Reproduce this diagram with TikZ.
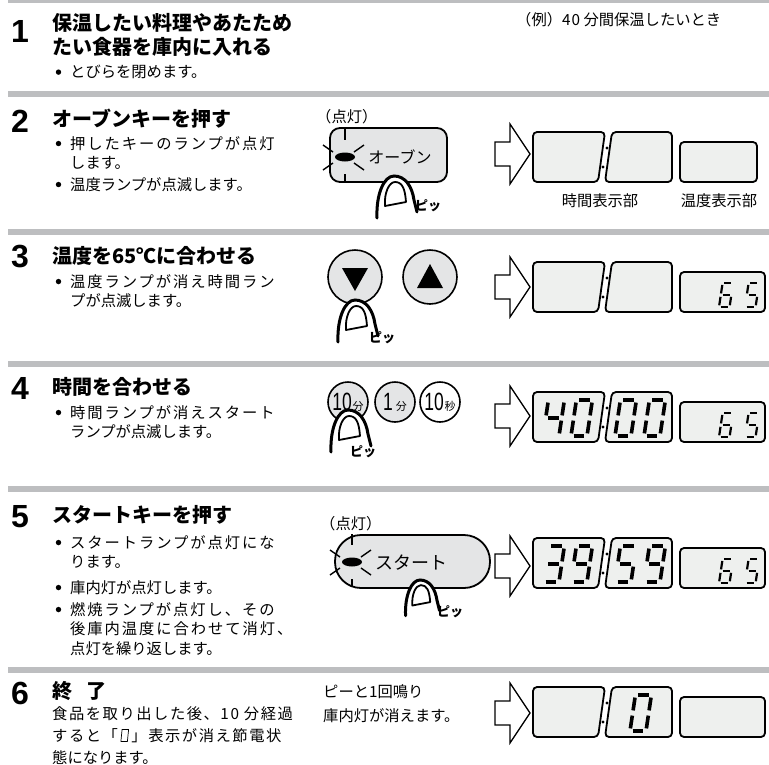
\documentclass[tikz,border=0pt]{standalone}
\usepackage{fontspec}
\usepackage{graphicx}
\newfontfamily\cjk{Noto Sans CJK JP}
\newfontfamily\cjkjust[LetterSpace=12.7]{Noto Sans CJK JP}
\newfontfamily\cjkwide[LetterSpace=10]{Noto Sans CJK JP}
\newfontfamily\numfont{Liberation Sans}
\usetikzlibrary{positioning}

\definecolor{bargray}{HTML}{BDBEC0}
\definecolor{keygray}{HTML}{E4E5E6}
\definecolor{lcdgray}{HTML}{EEF0EE}

\tikzset{
  bar/.style={fill=bargray},
  num/.style={font=\numfont\bfseries\fontsize{32}{32}\selectfont, inner sep=0pt, anchor=west},
  ttl/.style={font=\cjk\bfseries\fontsize{20}{24}\selectfont, inner sep=0pt, anchor=north west, align=left},
  txt/.style={font=\cjk\fontsize{15.3}{19.5}\selectfont, inner sep=0pt, anchor=north west, align=left},
  note/.style={font=\cjk\fontsize{15.3}{24}\selectfont, inner sep=0pt, anchor=west, align=left},
  lcd/.style={draw, line width=1.8pt, fill=lcdgray, rounded corners=4pt},
  key/.style={draw, line width=1.8pt, fill=keygray},
  ray/.style={line width=1.4pt},
  arrowline/.style={draw, line width=1.3pt, fill=white, line join=miter},
  fingerline/.style={line width=3pt, line cap=round},
  pitt/.style={font=\cjk\bfseries\fontsize{13}{13}\selectfont, inner sep=0pt},
  btn/.style={circle, draw, line width=1.6pt, fill=keygray, minimum size=40pt, inner sep=0pt, font=\cjk},
  sgm a/.style={insert path={(2.6,36) -- (13.4,36)}},
  sgm b/.style={insert path={(16,33.4) -- (16,20.6)}},
  sgm c/.style={insert path={(16,15.4) -- (16,2.6)}},
  sgm d/.style={insert path={(2.6,0) -- (13.4,0)}},
  sgm e/.style={insert path={(0,15.4) -- (0,2.6)}},
  sgm f/.style={insert path={(0,33.4) -- (0,20.6)}},
  sgm g/.style={insert path={(2.6,18) -- (13.4,18)}},
}

% bullet hanging left of the text
\newcommand\bul{\llap{\tikz[baseline=-5.6pt]\fill (0,0) circle (2.7pt);\hspace{9pt}}}
% small outlined zero used in the text
\newcommand\minizero{\,\tikz[baseline=0pt, x=1pt, y=1pt]\draw[line width=0.7pt, xslant=0.1] (0,-0.5) rectangle (6.5,11.5);\,}
% label of a round time key
\newcommand\btnlbl[2]{{\numfont\fontsize{25}{25}\selectfont\scalebox{0.7}[1]{#1}}\kern1pt{\fontsize{11}{11}\selectfont #2}}

% seven segment digit: x, y (bottom left), scale, line width, segments
\newcommand\segdigit[5]{%
  \begin{scope}[shift={(#1,#2)}, x=#3pt, y=#3pt, xslant=0.15]
    \foreach \s in {#5} {\draw[line width=#4, sgm \s];}
  \end{scope}}

% time and temperature windows, top at #1, right edge of the temperature window #2
\newcommand\timedisp[2]{%
  \draw[lcd] (533,#1) -- (605,#1) -- (598,#1+50) -- (533,#1+50) -- cycle;
  \draw[lcd] (612,#1) -- (672,#1) -- (672,#1+50) -- (605,#1+50) -- cycle;
  \fill (607,#1+16) circle (1.6);
  \fill (603,#1+35) circle (1.6);
  \draw[lcd] (680,#1+10) rectangle (#2,#1+50);}

% hollow block arrow, tip height #1
\newcommand\bigarrow[1]{%
  \draw[arrowline] (495,#1-12) -- (510,#1-12) -- (510,#1-30) -- (530,#1)
    -- (510,#1+30) -- (510,#1+12) -- (495,#1+12) -- cycle;}

% lit lamp with rays
\newcommand\lamp[2]{%
  \fill (#1,#2) ellipse (10 and 4.5);
  \draw[ray] (#1,#2-28) -- (#1,#2-17);
  \draw[ray] (#1,#2+17) -- (#1,#2+25);
  \draw[ray] (#1-22,#2-12) -- (#1-12,#2-5);
  \draw[ray] (#1-22,#2+13) -- (#1-12,#2+6);
  \draw[ray] (#1+9,#2-5) -- (#1+19,#2-12);
  \draw[ray] (#1+9,#2+6) -- (#1+19,#2+13);}

% pressing finger, tip at (#1,#2)
\newcommand\finger[3]{%
  \begin{scope}[shift={(#1,#2)}, scale=#3]
    \fill[white] (-17,42) .. controls (-18,18) and (-10,0) .. (0,0)
      .. controls (11,0) and (18,10) .. (20,24) -- (23,36) -- cycle;
    \draw[fingerline] (-17,42) .. controls (-18,18) and (-10,0) .. (0,0)
      .. controls (11,0) and (18,10) .. (20,24) -- (23,36);
    \draw[line width=1.8pt, line join=round] (-9,30) .. controls (-10,17) and (-5,6) .. (1,6)
      .. controls (8,6) and (11,12) .. (12,26) -- cycle;
  \end{scope}}

\begin{document}
\begin{tikzpicture}[x=1pt, y=-1pt]
  \useasboundingbox (0,0) rectangle (769,764);
  \foreach \yb in {-3,91,229,361,486,667} {
    \fill[bar] (8,\yb) rectangle (769,\yb+6);
  }

  % 1
  \node[num] (n1) at (11,31) {1};
  \node[ttl] (t1) at (52,13) {保温したい料理やあたため\\たい食器を庫内に入れる};
  \node[txt] (b1) at (70,65) {\bul とびらを閉めます。};
  \node[note] (ex) at (516,20) {（例）4\kern1pt0 分間保温したいとき};

  % 2
  \node[num] (n2) at (11,121) {2};
  \node[ttl] (t2) at (52,109) {オーブンキーを押す};
  \node[txt] (b2a) at (70,136) {\bul{\cjkjust 押したキーのランプが点灯}\\します。};
  \node[txt] (b2b) at (70,177) {\bul 温度ランプが点滅します。};
  \node[note] (lit2) at (316,117) {（点灯）};
  \node[key, rounded corners=10pt, minimum width=117pt, minimum height=54pt] (openkey) at (388.5,155) {};
  \lamp{345}{157}
  \node[font=\cjk\fontsize{16}{16}\selectfont, inner sep=0pt] (opentxt) at (400,157) {オーブン};
  \finger{394}{176}{1}
  \node[pitt] (pit2) at (428,206) {ピッ};
  \bigarrow{154}
  \timedisp{132}{757}
  \node[note, anchor=center] (timelbl) at (600,201) {時間表示部};
  \node[note, anchor=center] (templbl) at (719,201) {温度表示部};

  % 3
  \node[num] (n3) at (11,257) {3};
  \node[ttl] (t3) at (52,246) {温度を65℃に合わせる};
  \node[txt] (b3) at (70,274) {\bul{\cjkjust 温度ランプが消え時間ラン}\\プが点滅します。};
  \node[btn, minimum size=54pt] (down) at (355,277) {};
  \node[btn, minimum size=54pt] (up) at (430,277) {};
  \fill (down.center) ++(-13,-9) -- ++(26,0) -- ++(-13,23) -- cycle;
  \fill (up.center) ++(-13,11) -- ++(26,0) -- ++(-13,-24) -- cycle;
  \finger{355}{300}{1}
  \node[pitt] (pit3) at (382,338) {ピッ};
  \bigarrow{287}
  \timedisp{262}{765}
  \segdigit{719}{307}{0.66}{2.2pt}{a,c,d,e,f,g}
  \segdigit{745}{307}{0.66}{2.2pt}{a,c,d,f,g}

  % 4
  \node[num] (n4) at (11,388) {4};
  \node[ttl] (t4) at (52,377) {時間を合わせる};
  \node[txt] (b4) at (70,405) {\bul{\cjkjust 時間ランプが消えスタート}\\ランプが点滅します。};
  \node[btn] (tenmin) at (348,402) {\btnlbl{10}{分}};
  \node[btn] (onemin) at (395,402) {\btnlbl{1}{\,分}};
  \node[btn, fill=white] (tensec) at (440,402) {\btnlbl{10}{秒}};
  \finger{348}{410}{1}
  \node[pitt] (pit4) at (363,452) {ピッ};
  \bigarrow{416}
  \timedisp{392}{765}
  \segdigit{543}{436}{1}{3.6pt}{b,c,f,g}
  \segdigit{571}{436}{1}{3.6pt}{a,b,c,d,e,f}
  \segdigit{615}{436}{1}{3.6pt}{a,b,c,d,e,f}
  \segdigit{644}{436}{1}{3.6pt}{a,b,c,d,e,f}
  \segdigit{719}{437}{0.66}{2.2pt}{a,c,d,e,f,g}
  \segdigit{745}{437}{0.66}{2.2pt}{a,c,d,f,g}

  % 5
  \node[num] (n5) at (11,517) {5};
  \node[ttl] (t5) at (52,505) {スタートキーを押す};
  \node[txt] (b5a) at (70,535) {\bul{\cjkjust スタートランプが点灯にな}\\ります。};
  \node[txt] (b5b) at (70,580) {\bul 庫内灯が点灯します。};
  \node[txt] (b5c) at (70,602) {\bul{\cjkjust 燃焼ランプが点灯し、その}\\{\cjkjust 後庫内温度に合わせて消灯、}\\点灯を繰り返します。};
  \node[note] (lit5) at (320,524) {（点灯）};
  \node[key, rounded corners=26pt, minimum width=155pt, minimum height=53pt] (startkey) at (412.5,561.5) {};
  \lamp{352}{562}
  \node[font=\cjk\fontsize{18}{18}\selectfont, inner sep=0pt] (starttxt) at (411,563) {スタート};
  \finger{420}{580}{0.85}
  \node[pitt] (pit5) at (450,612) {ピッ};
  \bigarrow{566}
  \timedisp{538}{765}
  \segdigit{543}{582}{1}{3.6pt}{a,b,c,d,g}
  \segdigit{571}{582}{1}{3.6pt}{a,b,c,d,f,g}
  \segdigit{615}{582}{1}{3.6pt}{a,c,d,f,g}
  \segdigit{644}{582}{1}{3.6pt}{a,b,c,d,f,g}
  \segdigit{719}{583}{0.66}{2.2pt}{a,c,d,e,f,g}
  \segdigit{745}{583}{0.66}{2.2pt}{a,c,d,f,g}

  % 6
  \node[num] (n6) at (11,693) {6};
  \node[ttl] (t6) at (52,681) {終\hspace{0.7em}了};
  \node[txt, font=\cjk\fontsize{15.3}{22}\selectfont] (b6) at (52,706)
    {{\cjkwide 食品を取り出した後、10 分経過}\\{\cjkwide すると「\minizero」表示が消え節電状}\\態になります。};
  \node[note] (beep) at (323,704) {ピーと1回鳴り\\庫内灯が消えます。};
  \bigarrow{713}
  \timedisp{687}{765}
  \segdigit{630}{731}{1}{3.6pt}{a,b,c,d,e,f}
\end{tikzpicture}
\end{document}
